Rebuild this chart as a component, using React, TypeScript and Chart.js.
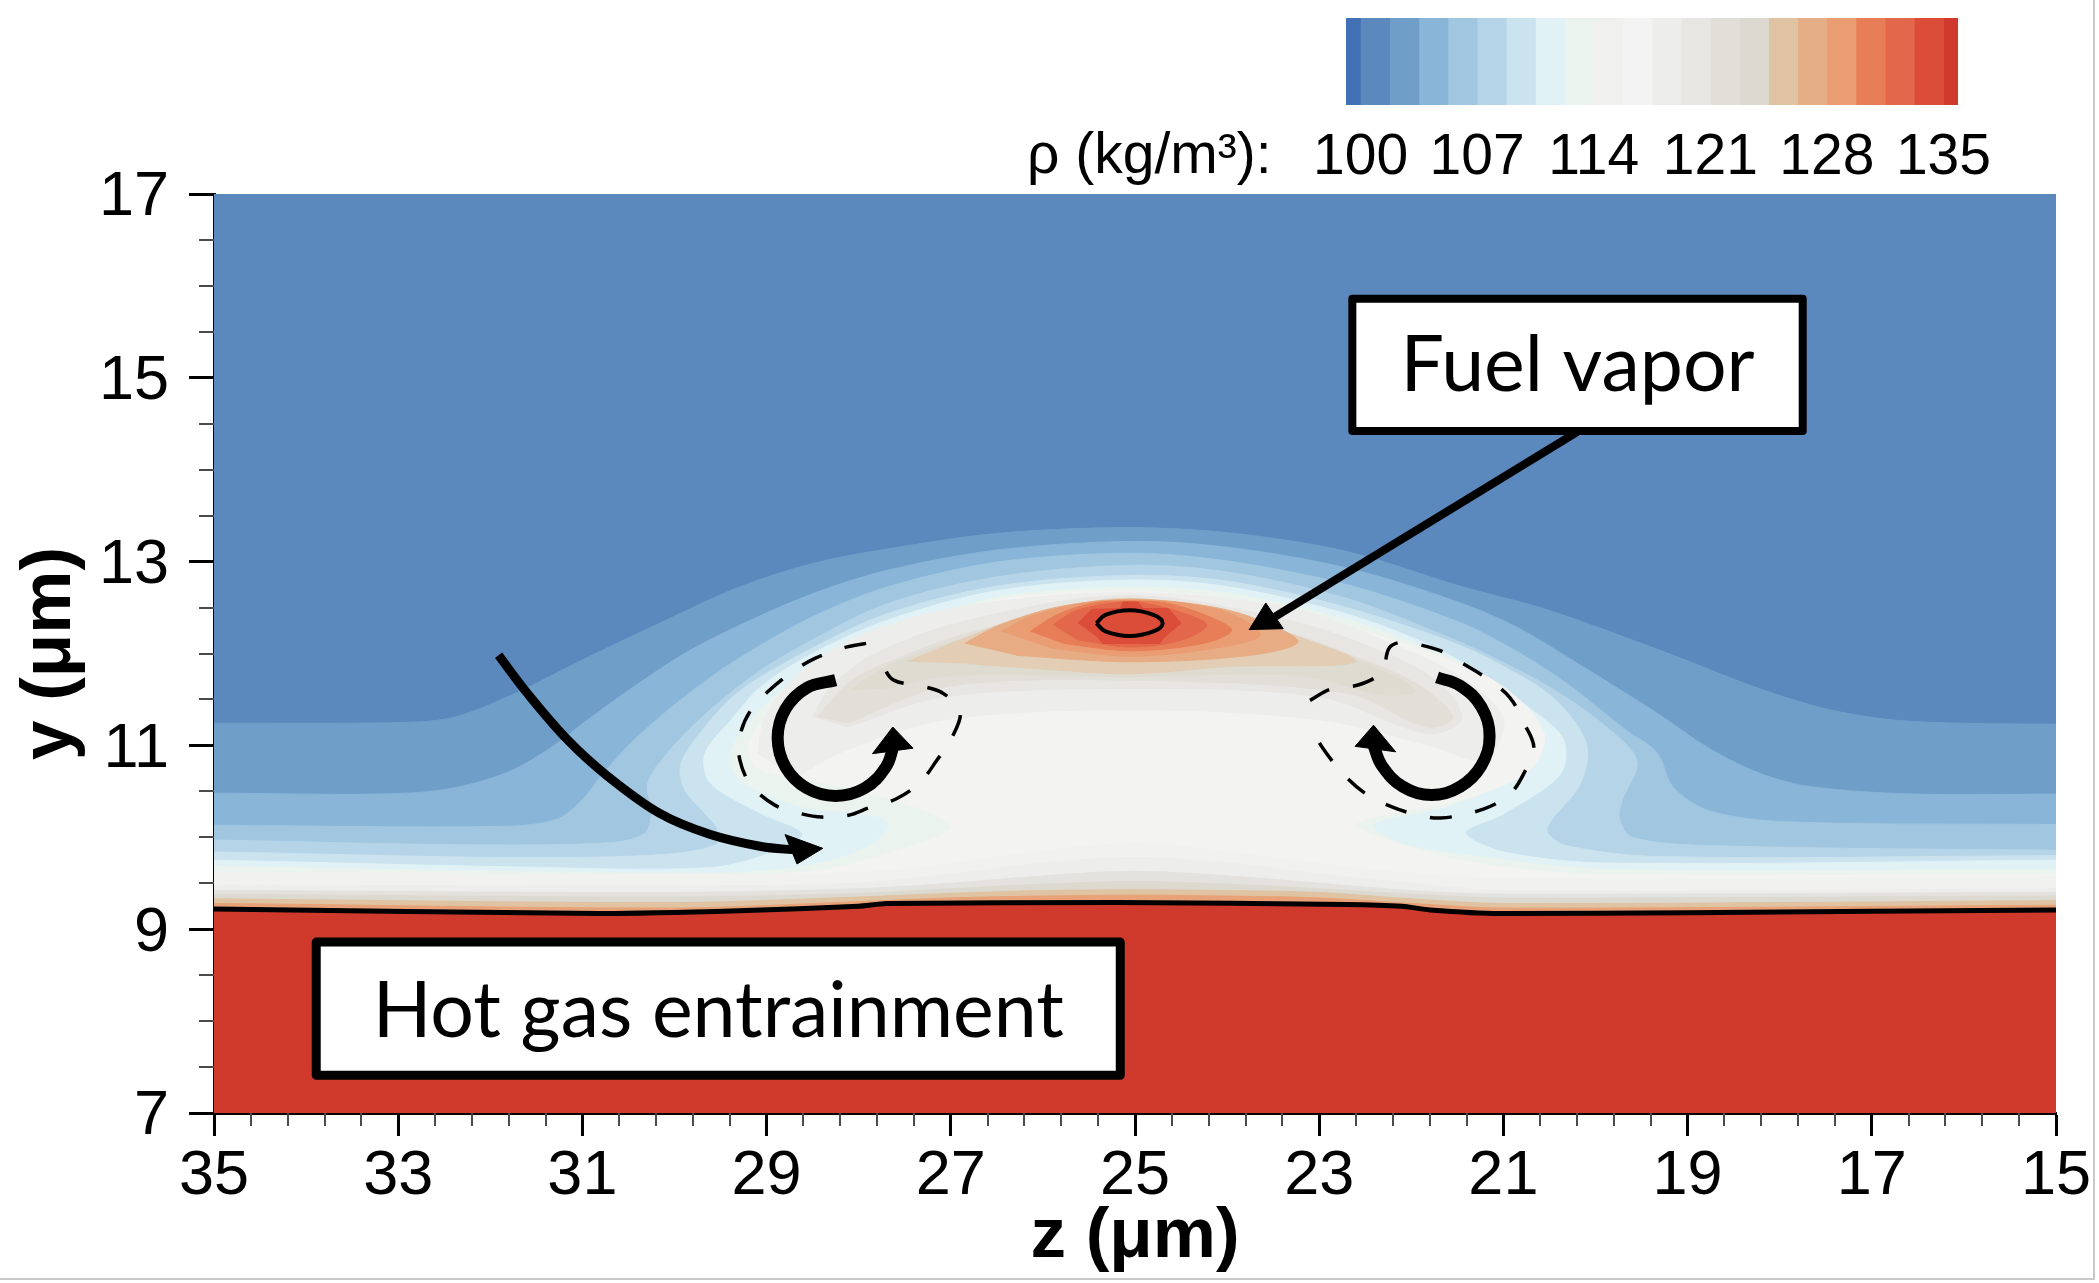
import React, { useEffect, useRef } from "react";
import { Chart, registerables } from "chart.js";

Chart.register(...registerables);

type P = [number, number];

// Axis ticks
const zMajorTicks = [35, 33, 31, 29, 27, 25, 23, 21, 19, 17, 15];
const yMajorTicks = [17, 15, 13, 11, 9, 7];

// Colour bar
const cbTicks = [100, 107, 114, 121, 128, 135];
const cbEdges = [99.125, 100, 101.75, 103.5, 105.25, 107, 108.75, 110.5, 112.25, 114, 115.75, 117.5, 119.25, 121, 122.75, 124.5, 126.25, 128, 129.75, 131.5, 133.25, 135, 135.875];
const cbColors = ["#4272b5", "#5b88bd", "#6f9fc9", "#88b5d8", "#a0c6e0", "#b6d4e8", "#cae3ef", "#e0f2f6", "#ebf3ee", "#f0f0ee", "#f3f3f3", "#ededec", "#e8e6e3", "#e2dfd8", "#dcdad0", "#dfc3a2", "#e5ae86", "#ea9c72", "#e87e57", "#e3674a", "#dc4d39", "#cf3a2c"];

// Density contours: [z, y]
const ctrA: P[] = [[35, 11.24], [32.93, 11.25], [32.38, 11.31], [31.72, 11.57], [31.0, 11.93], [30.16, 12.33], [29.33, 12.71], [28.5, 12.98], [27.67, 13.14], [26.46, 13.31], [25.07, 13.37], [23.95, 13.31], [22.7, 13.11], [21.46, 12.73], [20.6, 12.5], [19.88, 12.25], [19.05, 11.94], [18.2, 11.61], [17.38, 11.37], [16.55, 11.26], [15, 11.23]];
const ctrB: P[] = [[35, 10.48], [33.21, 10.47], [32.49, 10.52], [31.83, 10.7], [31.38, 10.95], [30.94, 11.28], [30.44, 11.64], [29.89, 12.0], [29.33, 12.29], [28.5, 12.65], [27.67, 12.91], [26.46, 13.13], [25, 13.22], [23.95, 13.15], [22.7, 12.93], [21.55, 12.58], [20.88, 12.3], [20.16, 11.87], [19.33, 11.35], [18.77, 10.97], [18.2, 10.69], [17.66, 10.55], [16.55, 10.47], [15, 10.47]];
const ctrC: P[] = [[35, 10.13], [31.83, 10.12], [31.27, 10.2], [31.0, 10.41], [30.77, 10.7], [30.44, 11.06], [29.89, 11.53], [29.33, 11.93], [28.5, 12.4], [27.67, 12.73], [26.46, 13.0], [25, 13.09], [23.95, 13.0], [22.7, 12.75], [21.5, 12.35], [20.9, 12.05], [20.32, 11.68], [19.66, 11.16], [19.33, 10.92], [19.16, 10.55], [18.77, 10.29], [17.94, 10.17], [15, 10.14]];
const ctrD: P[] = [[35, 9.97], [32.38, 9.92], [30.72, 9.94], [30.33, 10.04], [30.25, 10.26], [30.29, 10.59], [30.05, 10.95], [29.61, 11.39], [29.06, 11.82], [28.5, 12.15], [27.67, 12.55], [26.46, 12.84], [25, 12.96], [23.95, 12.88], [22.7, 12.6], [21.65, 12.2], [21.1, 11.95], [20.44, 11.6], [19.88, 11.2], [19.55, 10.83], [19.71, 10.4], [19.74, 10.2], [19.6, 10.0], [18.77, 9.91], [15, 9.86]];
const ctrE: P[] = [[35, 9.84], [31.83, 9.78], [30.16, 9.81], [29.55, 9.92], [29.53, 10.08], [29.67, 10.26], [29.89, 10.52], [29.93, 10.8], [29.67, 11.2], [29.28, 11.6], [28.5, 12.06], [27.67, 12.44], [26.46, 12.74], [25, 12.85], [23.95, 12.78], [22.7, 12.5], [21.55, 12.12], [21, 11.86], [20.44, 11.5], [20.1, 11.02], [20.16, 10.59], [20.49, 10.17], [20.52, 10.05], [20.32, 9.91], [19.33, 9.79], [15, 9.8]];
const ctrF: P[] = [[35, 9.75], [31.83, 9.68], [29.61, 9.67], [28.9, 9.85], [28.61, 10.04], [29.06, 10.26], [29.61, 10.59], [29.67, 10.91], [29.39, 11.27], [29.06, 11.64], [28.5, 12.0], [27.67, 12.37], [26.46, 12.69], [25, 12.8], [23.95, 12.72], [22.7, 12.43], [21.82, 12.1], [21.27, 11.8], [20.71, 11.4], [20.35, 11.07], [20.38, 10.69], [20.99, 10.26], [21.41, 10.05], [20.99, 9.84], [19.88, 9.72], [15, 9.75]];
const ctrG: P[] = [[35, 9.68], [29.61, 9.61], [28.5, 9.7], [27.84, 9.93], [27.67, 10.15], [27.95, 10.26], [28.6, 10.33], [29.28, 10.62], [29.39, 10.91], [29.17, 11.28], [28.78, 11.64], [28.23, 11.97], [27.39, 12.33], [26.46, 12.62], [25, 12.72], [23.95, 12.65], [22.7, 12.37], [22.0, 12.12], [21.32, 11.82], [20.82, 11.45], [20.6, 11.07], [20.82, 10.69], [21.55, 10.36], [22.41, 10.14], [22.1, 9.93], [21.27, 9.79], [19.88, 9.65], [15, 9.65]];
const ctrH: P[] = [[35, 9.62], [30, 9.6], [28.5, 9.63], [27.6, 9.85], [27.0, 10.1], [27.3, 10.3], [28.2, 10.55], [29.1, 10.75], [29.2, 11.0], [29.0, 11.32], [28.65, 11.66], [28.1, 12.02], [27.3, 12.36], [26.4, 12.6], [25.05, 12.68], [23.6, 12.55], [22.8, 12.33], [22.0, 12.08], [21.2, 11.76], [20.75, 11.42], [20.55, 11.07], [20.75, 10.7], [21.5, 10.4], [22.6, 10.15], [22.2, 9.95], [21.3, 9.72], [20, 9.6], [15, 9.6]];

// Closed bands inside the plume
const blobI: P[] = [[29.1, 10.91], [29.0, 11.35], [28.55, 11.86], [27.82, 12.26], [26.76, 12.53], [25.07, 12.66], [23.33, 12.5], [22.08, 12.05], [21.4, 11.7], [21.0, 11.28], [21.2, 10.84], [21.77, 10.99], [23.0, 11.28], [25.07, 11.39], [27.07, 11.28], [28.13, 10.95], [28.69, 10.66]];
const blobJ: P[] = [[28.5, 11.31], [28.3, 11.64], [27.82, 12.0], [26.82, 12.36], [25.07, 12.63], [23.33, 12.36], [22.27, 12.0], [21.65, 11.64], [21.46, 11.28], [21.83, 11.13], [23.0, 11.53], [25.07, 11.62], [27.07, 11.53], [28.13, 11.2]];
const blobK: P[] = [[28.45, 11.31], [28.07, 11.71], [27.44, 12.0], [26.82, 12.22], [25.07, 12.6], [23.33, 12.22], [22.7, 12.0], [21.96, 11.68], [21.55, 11.31], [21.83, 11.2], [22.7, 11.57], [25.07, 11.71], [27.07, 11.64], [28.13, 11.24]];
const blobK2: P[] = [[28.1, 11.6], [27.69, 11.86], [26.9, 12.15], [25.07, 12.6], [23.2, 12.15], [22.4, 11.85], [21.96, 11.6], [22.3, 11.55], [23.2, 11.76], [25.07, 11.75], [27.0, 11.76], [27.7, 11.62]];
const blobL: P[] = [[27.47, 11.91], [26.82, 12.18], [26.13, 12.42], [25.07, 12.6], [23.95, 12.42], [23.33, 12.22], [22.61, 11.91], [23.95, 11.86], [25.07, 11.78], [26.13, 11.84], [26.82, 11.89]];
const blobM: P[] = [[26.85, 12.11], [26.47, 12.31], [25.82, 12.51], [25.05, 12.59], [24.3, 12.53], [23.75, 12.4], [23.23, 12.13], [23.75, 11.98], [25.05, 11.91], [26.29, 11.98]];
const blobN: P[] = [[26.45, 12.24], [26.14, 12.4], [25.56, 12.55], [25.05, 12.58], [24.48, 12.55], [23.93, 12.42], [23.64, 12.2], [24.12, 12.06], [25.05, 11.97], [25.92, 12.06]];
const blobO: P[] = [[26.14, 12.24], [25.85, 12.42], [25.45, 12.55], [25.05, 12.57], [24.66, 12.55], [24.19, 12.4], [23.95, 12.25], [24.26, 12.11], [25.05, 12.03], [25.78, 12.11]];
const blobP: P[] = [[25.89, 12.31], [25.63, 12.47], [25.16, 12.56], [24.95, 12.56], [24.48, 12.44], [24.22, 12.31], [24.48, 12.15], [25.05, 12.07], [25.63, 12.15]];
const blobQ: P[] = [[25.62, 12.33], [25.47, 12.48], [25.16, 12.49], [25.13, 12.56], [24.97, 12.56], [24.91, 12.49], [24.64, 12.49], [24.5, 12.33], [24.69, 12.17], [24.73, 12.11], [25.35, 12.11], [25.4, 12.17]];
const coreOval: P[] = [[25.42, 12.33], [25.32, 12.42], [25.06, 12.47], [24.8, 12.42], [24.7, 12.33], [24.8, 12.24], [25.06, 12.19], [25.32, 12.24], [25.42, 12.33]];

// Layers just above the hot gas
const stripS0: P[] = [[35, 9.62], [30, 9.6], [28.5, 9.6], [27.5, 9.65], [26.5, 9.78], [25, 9.93], [23.5, 9.78], [22.5, 9.65], [21, 9.55], [15, 9.58]];
const stripS1: P[] = [[35, 9.48], [30, 9.47], [28, 9.5], [27, 9.6], [26, 9.72], [25, 9.78], [24, 9.72], [23, 9.6], [22, 9.5], [21, 9.42], [15, 9.44]];
const stripS2: P[] = [[35, 9.42], [30, 9.4], [28, 9.44], [27, 9.5], [26, 9.58], [25, 9.63], [24, 9.58], [23, 9.5], [22, 9.42], [21, 9.38], [15, 9.4]];
const stripS3: P[] = [[35, 9.38], [30, 9.35], [28, 9.39], [27, 9.44], [26, 9.49], [25, 9.52], [24, 9.49], [23, 9.44], [22, 9.38], [21, 9.34], [15, 9.36]];
const stripS4: P[] = [[35, 9.33], [30, 9.29], [28, 9.35], [27, 9.39], [26, 9.42], [25, 9.43], [24, 9.42], [23, 9.4], [22, 9.33], [21, 9.28], [15, 9.31]];
const stripS5: P[] = [[35, 9.28], [30, 9.23], [28, 9.3], [27, 9.34], [26, 9.36], [25, 9.37], [24, 9.36], [23, 9.34], [22, 9.28], [21, 9.23], [15, 9.26]];
const hotLine: P[] = [[35, 9.22], [30.81, 9.17], [29.3, 9.2], [28, 9.25], [27.7, 9.28], [25.2, 9.29], [22.7, 9.27], [22.1, 9.25], [21.8, 9.21], [21.03, 9.17], [19, 9.18], [15, 9.21]];

// Dashed curves round the vortices
const dashLeft: P[] = [[27.92, 12.11], [28.17, 12.06], [28.47, 11.95], [28.69, 11.82], [28.97, 11.6], [29.18, 11.37], [29.29, 11.1], [29.29, 10.84], [29.17, 10.57], [28.91, 10.35], [28.64, 10.26], [28.4, 10.22], [28.11, 10.24], [27.89, 10.32], [27.59, 10.42], [27.34, 10.59], [27.15, 10.84], [26.98, 11.1], [26.9, 11.37], [27.09, 11.57], [27.34, 11.65], [27.62, 11.71], [27.73, 11.86], [27.75, 11.97]];
const dashRight: P[] = [[23.1, 11.49], [22.88, 11.61], [22.57, 11.66], [22.32, 11.8], [22.24, 12.06], [22.1, 12.12], [21.71, 12.04], [21.49, 11.92], [21.18, 11.73], [20.93, 11.52], [20.77, 11.23], [20.67, 10.98], [20.77, 10.71], [20.93, 10.47], [21.21, 10.31], [21.68, 10.21], [21.99, 10.26], [22.21, 10.33], [22.49, 10.47], [22.74, 10.69], [22.96, 10.97], [23.1, 11.21]];

// Arrows
const swirlLeft: P[] = [[28.25, 11.71], [28.565, 11.625], [28.795, 11.395], [28.88, 11.08], [28.795, 10.765], [28.565, 10.535], [28.25, 10.45], [27.935, 10.535], [27.705, 10.765], [27.62, 11.0]];
const swirlLeftHead: P[] = [[27.63, 11.2], [27.85, 10.91], [27.41, 10.97], [27.63, 11.2]];
const swirlRight: P[] = [[21.72, 11.74], [21.47, 11.65], [21.24, 11.42], [21.15, 11.1], [21.24, 10.78], [21.47, 10.55], [21.78, 10.46], [22.09, 10.55], [22.32, 10.78], [22.41, 11.0]];
const swirlRightHead: P[] = [[22.41, 11.22], [22.61, 10.99], [22.17, 10.93], [22.41, 11.22]];
const entrainArrow: P[] = [[31.91, 11.98], [31.6, 11.57], [31.16, 11.06], [30.72, 10.66], [30.16, 10.26], [29.61, 10.03], [29.06, 9.9], [28.67, 9.86]];
const entrainHead: P[] = [[28.39, 9.88], [28.8, 10.03], [28.67, 9.71], [28.39, 9.88]];
const fuelArrow: P[] = [[20.2, 14.41], [23.48, 12.4]];
const fuelHead: P[] = [[23.76, 12.26], [23.58, 12.55], [23.39, 12.27], [23.76, 12.26]];

// Annotation boxes
const fuelBox: P[] = [[20, 15.86], [17.75, 15.86], [17.75, 14.42], [22.64, 14.42], [22.64, 15.86], [20, 15.86]];
const hotBox: P[] = [[29, 8.86], [25.16, 8.86], [25.16, 7.41], [33.89, 7.41], [33.89, 8.86], [29, 8.86]];
const boxLabels = ["Fuel vapor", "Hot gas entrainment"];

const below = (c: P[]): P[] => [[36, 5], [36, c[0][1]], ...c, [14, c[c.length - 1][1]], [14, 5]];
const toXY = (p: P[]) => p.map(([x, y]) => ({ x, y }));

const isMajor = (v: number, list: number[]) => list.some((m) => Math.abs(m - v) < 1e-6);

function fillLayer(p: P[], color: string, tension = 0.32) {
  return { data: toXY(p), showLine: true, fill: "shape", backgroundColor: color, borderColor: color, borderWidth: 1, pointRadius: 0, tension, capBezierPoints: false, borderJoinStyle: "round" };
}
function stroke(p: P[], width: number, tension = 0.35, dash: number[] = []) {
  return { data: toXY(p), showLine: true, fill: false, borderColor: "#000000", borderWidth: width, pointRadius: 0, tension, borderDash: dash, borderCapStyle: "butt", capBezierPoints: false };
}
function head(p: P[]) {
  return { data: toXY(p), showLine: true, fill: "shape", backgroundColor: "#000000", borderColor: "#000000", borderWidth: 1, pointRadius: 0, tension: 0 };
}
function box(p: P[], width: number) {
  return { data: toXY(p), showLine: true, fill: "shape", backgroundColor: "#ffffff", borderColor: "#000000", borderWidth: width, pointRadius: 0, tension: 0, borderJoinStyle: "round", borderCapStyle: "square" };
}

const FONT = "'Liberation Sans', Arial, sans-serif";

const minorTickPlugin = {
  id: "minorTicks",
  afterDraw(chart: any) {
    const { ctx, scales } = chart;
    ctx.save();
    ctx.strokeStyle = "#4a4a4a";
    ctx.lineWidth = 2;
    ctx.beginPath();
    for (const t of scales.x.ticks) {
      if (isMajor(t.value, zMajorTicks)) continue;
      const px = Math.round(scales.x.getPixelForValue(t.value));
      ctx.moveTo(px, scales.x.top);
      ctx.lineTo(px, scales.x.top + 13);
    }
    for (const t of scales.y.ticks) {
      if (isMajor(t.value, yMajorTicks)) continue;
      const py = Math.round(scales.y.getPixelForValue(t.value));
      ctx.moveTo(scales.y.right, py);
      ctx.lineTo(scales.y.right - 15, py);
    }
    ctx.stroke();
    ctx.restore();
  },
};

const boxTextPlugin = {
  id: "boxText",
  afterDatasetsDraw(chart: any) {
    const { ctx, scales } = chart;
    ctx.save();
    ctx.fillStyle = "#000";
    ctx.textAlign = "center";
    ctx.textBaseline = "middle";
    ctx.font = "77px Lato, 'Open Sans', sans-serif";
    ctx.fillText(boxLabels[0], scales.x.getPixelForValue((17.75 + 22.64) / 2), scales.y.getPixelForValue(15.13));
    ctx.fillText(boxLabels[1], scales.x.getPixelForValue((25.16 + 33.89) / 2), scales.y.getPixelForValue(8.1));
    ctx.restore();
  },
};

const cbPrefixPlugin = {
  id: "cbPrefix",
  afterDraw(chart: any) {
    const { ctx, chartArea } = chart;
    ctx.save();
    ctx.fillStyle = "#000";
    ctx.textAlign = "left";
    ctx.textBaseline = "alphabetic";
    ctx.font = `57px ${FONT}`;
    ctx.fillText("ρ (kg/m³):", chartArea.left - 319, chartArea.bottom + 68);
    ctx.restore();
  },
};

export default function App() {
  const mainRef = useRef<HTMLCanvasElement>(null);
  const cbRef = useRef<HTMLCanvasElement>(null);

  useEffect(() => {
    const layers: any[] = [
      fillLayer(below([[35, 30], [15, 30]]), "#5b88bd", 0),
      fillLayer(below(ctrA), "#6f9fc9"),
      fillLayer(below(ctrB), "#88b5d8"),
      fillLayer(below(ctrC), "#a0c6e0"),
      fillLayer(below(ctrD), "#b6d4e8"),
      fillLayer(below(ctrE), "#cae3ef"),
      fillLayer(below(ctrF), "#e0f2f6"),
      fillLayer(below(ctrG), "#ebf3ee"),
      fillLayer(below(ctrH), "#f3f3f2"),
      fillLayer(blobI, "#ededec"),
      fillLayer(blobJ, "#e8e6e3"),
      fillLayer(blobK, "#e2dfd8"),
      fillLayer(blobK2, "#dedbd0"),
      fillLayer(blobL, "#e3cdb4"),
      fillLayer(blobM, "#e8ac84"),
      fillLayer(blobN, "#ea9c72"),
      fillLayer(blobO, "#e87e57"),
      fillLayer(blobP, "#e3674a"),
      fillLayer(blobQ, "#dc4d39", 0),
      stroke(coreOval, 4, 0.4),
      fillLayer(below(stripS0), "#f1f1f0"),
      fillLayer(below(stripS1), "#ededec"),
      fillLayer(below(stripS2), "#e3e2de"),
      fillLayer(below(stripS3), "#dcdad0"),
      fillLayer(below(stripS4), "#dfc3a2"),
      fillLayer(below(stripS5), "#e9a277"),
      fillLayer(below(hotLine), "#cf3a2c"),
      stroke(hotLine, 5, 0.2),
      stroke(dashLeft, 3.5, 0.35, [22, 24]),
      stroke(dashRight, 3.5, 0.35, [22, 24]),
      stroke(fuelArrow, 8, 0),
      head(fuelHead),
      stroke(entrainArrow, 9),
      head(entrainHead),
      stroke(swirlLeft, 12, 0.4),
      head(swirlLeftHead),
      stroke(swirlRight, 12, 0.4),
      head(swirlRightHead),
      box(fuelBox, 8),
      box(hotBox, 9),
    ];
    layers.forEach((d, i) => (d.order = -i));

    const main = new Chart(mainRef.current!, {
      type: "scatter",
      data: { datasets: layers },
      plugins: [minorTickPlugin, boxTextPlugin],
      options: {
        animation: false,
        responsive: false,
        devicePixelRatio: 1,
        layout: { padding: { top: 194, right: 43, left: 0, bottom: 0 } },
        plugins: { legend: { display: false }, tooltip: { enabled: false }, title: { display: false } },
        scales: {
          x: {
            type: "linear",
            reverse: true,
            min: 15,
            max: 35,
            afterFit: (s: any) => { s.height = 170; },
            border: { color: "#000", width: 3 },
            grid: {
              drawOnChartArea: false,
              tickLength: 23,
              tickWidth: 3,
              tickColor: (c: any) => (isMajor(c.tick.value, zMajorTicks) ? "#000" : "rgba(0,0,0,0)"),
            },
            ticks: {
              stepSize: 0.4,
              autoSkip: false,
              maxRotation: 0,
              padding: 3,
              color: "#000",
              font: { family: FONT, size: 63 },
              callback: (v: any) => (isMajor(Number(v), zMajorTicks) ? String(Math.round(Number(v))) : ""),
            },
            title: { display: true, text: "z (μm)", color: "#000", font: { family: FONT, size: 71, weight: "bold" }, padding: { top: 0, bottom: 3 } },
          },
          y: {
            type: "linear",
            min: 7,
            max: 17,
            afterFit: (s: any) => { s.width = 214; },
            border: { color: "#000", width: 3 },
            grid: {
              drawOnChartArea: false,
              tickLength: 25,
              tickWidth: 3,
              tickColor: (c: any) => (isMajor(c.tick.value, yMajorTicks) ? "#000" : "rgba(0,0,0,0)"),
            },
            ticks: {
              stepSize: 0.5,
              autoSkip: false,
              padding: 20,
              labelOffset: 4,
              color: "#000",
              font: { family: FONT, size: 63 },
              callback: (v: any) => (isMajor(Number(v), yMajorTicks) ? String(Math.round(Number(v))) : ""),
            },
            title: { display: true, text: "y (μm)", color: "#000", font: { family: FONT, size: 71, weight: "bold" }, padding: { top: 8, bottom: 0 } },
          },
        },
      } as any,
    } as any);

    const cb = new Chart(cbRef.current!, {
      type: "bar",
      data: {
        labels: ["ρ"],
        datasets: cbColors.map((color, i) => ({
          data: [[cbEdges[i], cbEdges[i + 1]]],
          backgroundColor: color,
          borderWidth: 0,
          barPercentage: 1,
          categoryPercentage: 1,
          grouped: false,
        })),
      },
      plugins: [cbPrefixPlugin],
      options: {
        animation: false,
        responsive: false,
        devicePixelRatio: 1,
        indexAxis: "y",
        layout: { padding: { top: 18, left: 1346, right: 141, bottom: 0 } },
        plugins: { legend: { display: false }, tooltip: { enabled: false } },
        scales: {
          x: {
            type: "linear",
            min: cbEdges[0],
            max: cbEdges[cbEdges.length - 1],
            afterBuildTicks: (s: any) => { s.ticks = cbTicks.map((value) => ({ value })); },
            afterFit: (s: any) => { s.height = 85; },
            border: { display: false },
            grid: { display: false },
            ticks: { autoSkip: false, maxRotation: 0, padding: 11, color: "#000", font: { family: FONT, size: 57 } },
          },
          y: { display: false },
        },
      } as any,
    } as any);

    return () => {
      main.destroy();
      cb.destroy();
    };
  }, []);

  return (
    <div style={{ position: "absolute", left: 0, top: 0, width: 2099, height: 1283, background: "#fff", overflow: "hidden" }}>
      <canvas ref={mainRef} width={2099} height={1283} style={{ position: "absolute", left: 0, top: 0, filter: "blur(0.7px)" }} />
      <canvas ref={cbRef} width={2099} height={190} style={{ position: "absolute", left: 0, top: 0, filter: "blur(0.7px)" }} />
      <div style={{ position: "absolute", left: 0, top: 1278, width: 2094, height: 2, background: "#c9c9c9" }} />
      <div style={{ position: "absolute", left: 2093, top: 0, width: 2, height: 1280, background: "#c9c9c9" }} />
    </div>
  );
}
